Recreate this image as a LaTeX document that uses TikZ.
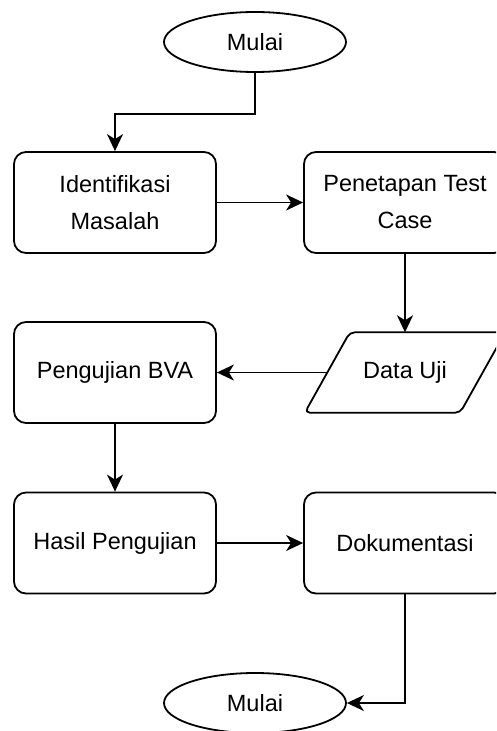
\documentclass[tikz,border=0pt]{standalone}
\usepackage{fontspec}
\setmainfont{Liberation Sans}
\usetikzlibrary{shapes.geometric,arrows.meta}
\begin{document}
\begin{tikzpicture}[x=1pt,y=-1pt,
  txt/.style={font=\fontsize{23.5}{36}\selectfont, align=center, inner sep=0pt},
  box/.style={txt, draw, line width=1.8pt, rounded corners=12pt, minimum width=202pt, minimum height=101pt},
  term/.style={txt, draw, ellipse, line width=1.8pt, minimum width=182pt, minimum height=60pt},
  io/.style={txt, minimum width=200pt, minimum height=80pt},
  ioline/.style={line width=1.8pt, rounded corners=5pt, line join=round},
  arr/.style={line width=1.8pt, -{Stealth[length=17pt,width=16pt,inset=5pt]}}
]
\useasboundingbox (0,0) rectangle (496,731);
\clip (0,0) rectangle (496,731);
\node[term] (m1) at (255,42) {Mulai};
\node[box] (im) at (115,202.5) {Identifikasi\\[1pt]Masalah};
\node[box] (pt) at (405,202.5) {Penetapan Test\\[1pt]Case};
\node[io] (du) at (405,372.5) {Data Uji};
\draw[ioline] ([xshift=45pt]du.north west) -- (du.north east) -- ([xshift=-45pt]du.south east) -- (du.south west) -- cycle;
\coordinate (duw) at ([xshift=22.5pt]du.west);
\node[box] (pb) at (115,372.5) {Pengujian BVA};
\node[box] (hp) at (115,543) {Hasil Pengujian};
\node[box] (dk) at (405,543) {Dokumentasi};
\node[term] (m2) at (255,703) {Mulai};
\draw[arr] (m1.south) -- ++(0,41) -| (im.north);
\draw[arr] (im) -- (pt);
\draw[arr] (pt) -- (du);
\draw[arr] (duw) -- (pb.east);
\draw[arr] (pb) -- (hp);
\draw[arr] (hp) -- (dk);
\draw[arr] (dk.south) |- (m2.east);
\end{tikzpicture}
\end{document}
